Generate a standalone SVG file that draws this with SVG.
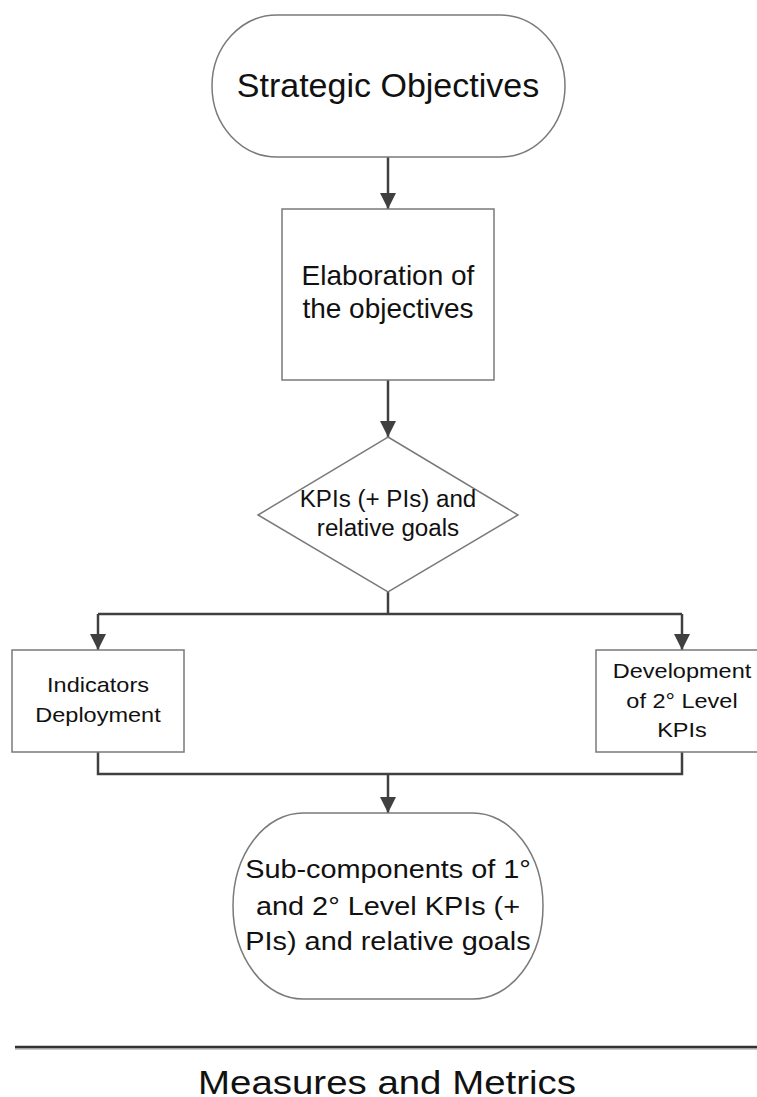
<svg xmlns="http://www.w3.org/2000/svg" width="757" height="1097" viewBox="0 0 757 1097">
  <style>
    .shape { fill: #ffffff; stroke: #7a7a7a; stroke-width: 1.5; }
    .conn { fill: none; stroke: #404040; stroke-width: 2.5; }
    .lbl { font-family: "Liberation Sans", Arial, sans-serif; fill: #111111; text-anchor: middle; }
  </style>
  <defs>
    <marker id="arrow" markerUnits="userSpaceOnUse" markerWidth="16" markerHeight="16" refX="16" refY="8" orient="auto">
      <path d="M0,0 L16,8 L0,16 z" fill="#404040"/>
    </marker>
  </defs>

  <rect width="757" height="1097" fill="#ffffff"/>

  <!-- connectors -->
  <g id="connectors">
    <path class="conn" d="M388,157 V209" marker-end="url(#arrow)"/>
    <path class="conn" d="M388,380 V437" marker-end="url(#arrow)"/>
    <path class="conn" d="M388,592 V614"/>
    <path class="conn" d="M98,614 H682"/>
    <path class="conn" d="M98,614 V650" marker-end="url(#arrow)"/>
    <path class="conn" d="M682,614 V650" marker-end="url(#arrow)"/>
    <path class="conn" d="M98,752 V774 H682 V752"/>
    <path class="conn" d="M388,774 V813" marker-end="url(#arrow)"/>
  </g>

  <!-- start terminator -->
  <g id="strategic-objectives">
    <rect class="shape" x="212" y="15" width="353" height="142" rx="65" ry="71"/>
    <text class="lbl" x="388" y="97" font-size="34">Strategic Objectives</text>
  </g>

  <!-- process box -->
  <g id="elaboration">
    <rect class="shape" x="282" y="209" width="212" height="171"/>
    <text class="lbl" x="388" y="285" font-size="28">Elaboration of</text>
    <text class="lbl" x="388" y="318" font-size="28">the objectives</text>
  </g>

  <!-- decision -->
  <g id="kpis">
    <polygon class="shape" points="388,437 518,515 388,592 258,515"/>
    <text class="lbl" font-size="23" transform="translate(388,507) scale(1.05,1)">KPIs (+ PIs) and</text>
    <text class="lbl" font-size="23" transform="translate(388,536) scale(1.05,1)">relative goals</text>
  </g>

  <!-- left branch -->
  <g id="indicators-deployment">
    <rect class="shape" x="12" y="650" width="172" height="102"/>
    <text class="lbl" font-size="21" transform="translate(98,692) scale(1.12,1)">Indicators</text>
    <text class="lbl" font-size="21" transform="translate(98,722) scale(1.12,1)">Deployment</text>
  </g>

  <!-- right branch -->
  <g id="second-level-kpis">
    <rect class="shape" x="596" y="650" width="172" height="102"/>
    <text class="lbl" font-size="21" transform="translate(682,678) scale(1.12,1)">Development</text>
    <text class="lbl" font-size="21" transform="translate(682,708) scale(1.12,1)">of 2° Level</text>
    <text class="lbl" font-size="21" transform="translate(682,737) scale(1.12,1)">KPIs</text>
  </g>

  <!-- end terminator -->
  <g id="sub-components">
    <rect class="shape" x="233" y="813" width="310" height="186" rx="70" ry="93"/>
    <text class="lbl" font-size="26" transform="translate(388,878) scale(1.11,1)">Sub-components of 1°</text>
    <text class="lbl" font-size="26" transform="translate(388,915) scale(1.11,1)">and 2° Level KPIs (+</text>
    <text class="lbl" font-size="26" transform="translate(388,950) scale(1.11,1)">PIs) and relative goals</text>
  </g>

  <!-- caption rule and title -->
  <g id="caption">
    <line x1="15" y1="1049" x2="757" y2="1049" stroke="#c8c8c8" stroke-width="2"/>
    <line x1="15" y1="1047" x2="757" y2="1047" stroke="#333333" stroke-width="2.5"/>
    <text class="lbl" font-size="34" transform="translate(387,1094) scale(1.13,1)">Measures and Metrics</text>
  </g>
</svg>
